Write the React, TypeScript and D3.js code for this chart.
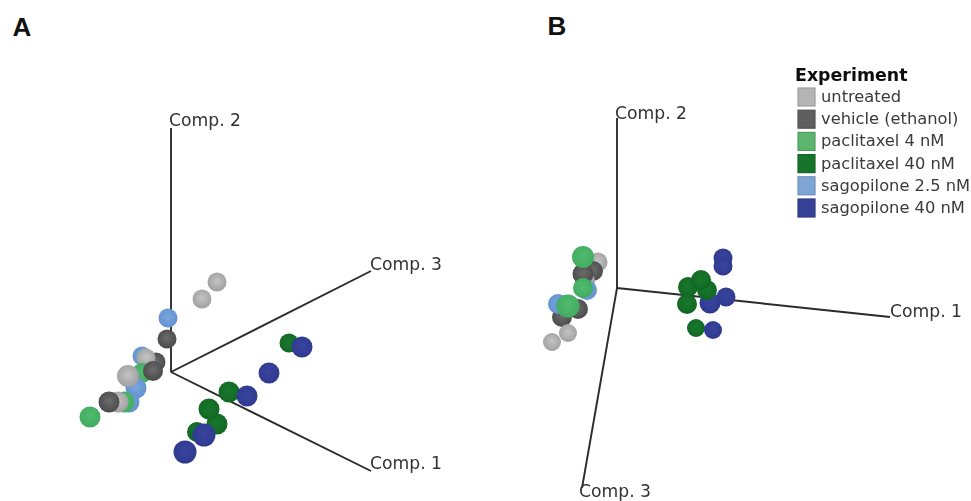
import React from "react";
import * as d3 from "d3";

const groups = ["untreated", "vehicle (ethanol)", "paclitaxel 4 nM", "paclitaxel 40 nM", "sagopilone 2.5 nM", "sagopilone 40 nM"];
const colors = ["#b5b5b5", "#5f5f5f", "#5cb56c", "#17752c", "#7fa5d6", "#353f97"];
const sphereLight = ["#c4c4c4", "#6c6c6c", "#52bb6e", "#19782d", "#7aa6de", "#3a459e"];
const sphereDark = ["#9c9c9c", "#474747", "#3faa5e", "#0f6624", "#6090cc", "#2d378e"];

// group, horizontal, vertical (projected, origin-relative), depth
type P = [number, number, number, number];

const pointsA: P[] = [
  [0, 46, 90, 2], [0, 31, 73, 2],
  [4, -3, 54, 2], [1, -4, 33, 2],
  [4, -29, 16, 2], [1, -15, 10, 2], [0, -25, 14, 2],
  [2, -29, -1, 3], [4, -35, -16, 4], [0, -43, -4, 5], [1, -18, 1, 3],
  [4, -42, -30, 4], [2, -47, -30, 4], [0, -53, -30, 4], [1, -62, -30, 4],
  [2, -81, -45, 4],
  [3, 118, 29, 2], [5, 131, 25, 4], [5, 98, -1, 4],
  [3, 58, -20, 4], [5, 76, -24, 4],
  [3, 46, -52, 4], [3, 38, -37, 4],
  [3, 26, -60, 3], [5, 33, -63, 6], [5, 14, -80, 6],
];

const pointsB: P[] = [
  [0, -19, 26, 2], [1, -24, 17, 3], [0, -32, 7, 3], [1, -34, 14, 4], [2, -34, 31, 5],
  [4, -30, -2, 3], [2, -34, 0, 3],
  [1, -39, -21, 3], [1, -55, -29, 3], [4, -59, -16, 3], [4, -52, -17, 3], [2, -49, -18, 6],
  [0, -49, -45, 1], [0, -65, -54, 1],
  [5, 106, 30, 2], [5, 106, 22, 2],
  [5, 109, -9, 2], [5, 93, -15, 4],
  [3, 71, 1, 3], [3, 70, -16, 3], [3, 90, -2, 3], [3, 84, 8, 3],
  [3, 79, -40, 1], [5, 96, -42, 1],
];

const axesA: [string, number, number][] = [["Comp. 2", 0, 244], ["Comp. 3", 200, 101], ["Comp. 1", 200, -99]];
const axesB: [string, number, number][] = [["Comp. 2", 0, 170], ["Comp. 1", 273, -29], ["Comp. 3", -35, -200]];

const font = "'DejaVu Sans', sans-serif";
const radius = d3.scaleLinear().domain([1, 7]).range([9, 12]);

function Panel({ origin, points, axes, labelDx, labelDy }: { origin: [number, number]; points: P[]; axes: [string, number, number][]; labelDx: number[]; labelDy: number[] }) {
  const x = d3.scaleLinear().domain([0, 100]).range([origin[0], origin[0] + 100]);
  const y = d3.scaleLinear().domain([0, 100]).range([origin[1], origin[1] - 100]);
  return (
    <g>
      {axes.map(([n, a, b], i) => (
        <g key={n}>
          <line x1={x(0)} y1={y(0)} x2={x(a)} y2={y(b)} stroke="#2b2b2b" strokeWidth={1.9} />
          <text x={x(a) + labelDx[i]} y={y(b) + labelDy[i]} fontFamily={font} fontSize={17.2} fill="#333">{n}</text>
        </g>
      ))}
      {points.map(([g, a, b, d], i) => (
        <circle key={i} cx={x(a)} cy={y(b)} r={radius(d)} fill={`url(#s${g})`} />
      ))}
    </g>
  );
}

export default function App() {
  return (
    <svg width={971} height={501} style={{ position: "absolute", left: 0, top: 0 }}>
      <defs>
        {groups.map((_, i) => (
          <radialGradient key={i} id={`s${i}`} cx="0.5" cy="0.45" r="0.6">
            <stop offset="0" stopColor={sphereLight[i]} />
            <stop offset="1" stopColor={sphereDark[i]} />
          </radialGradient>
        ))}
        <filter id="soft" x="-5%" y="-5%" width="110%" height="110%">
          <feGaussianBlur stdDeviation="0.55" />
        </filter>
      </defs>
      <rect width={971} height={501} fill="#fff" />
      <text x={12.5} y={36} fontFamily="'Liberation Sans', Arial, sans-serif" fontWeight="bold" fontSize={26} fill="#111">A</text>
      <text x={547.5} y={35} fontFamily="'Liberation Sans', Arial, sans-serif" fontWeight="bold" fontSize={26} fill="#111">B</text>
      <g filter="url(#soft)">
        <Panel origin={[171, 372]} points={pointsA} axes={axesA} labelDx={[-2, -1, -1]} labelDy={[-2, -1, -2]} />
        <Panel origin={[617, 288]} points={pointsB} axes={axesB} labelDx={[-2, 0, -3]} labelDy={[1, 0, 9]} />
        <text x={795} y={81} fontFamily={font} fontWeight="bold" fontSize={17.4} fill="#111">Experiment</text>
        {groups.map((g, i) => (
          <g key={g}>
            <rect x={798} y={88 + i * 22.2} width={17} height={18} fill={colors[i]} stroke={d3.color(colors[i])!.darker(0.4).formatHex()} strokeWidth={1.2} />
            <text x={821} y={102 + i * 22.2} fontFamily={font} fontSize={16.3} fill="#3a3a3a">{g}</text>
          </g>
        ))}
      </g>
    </svg>
  );
}
